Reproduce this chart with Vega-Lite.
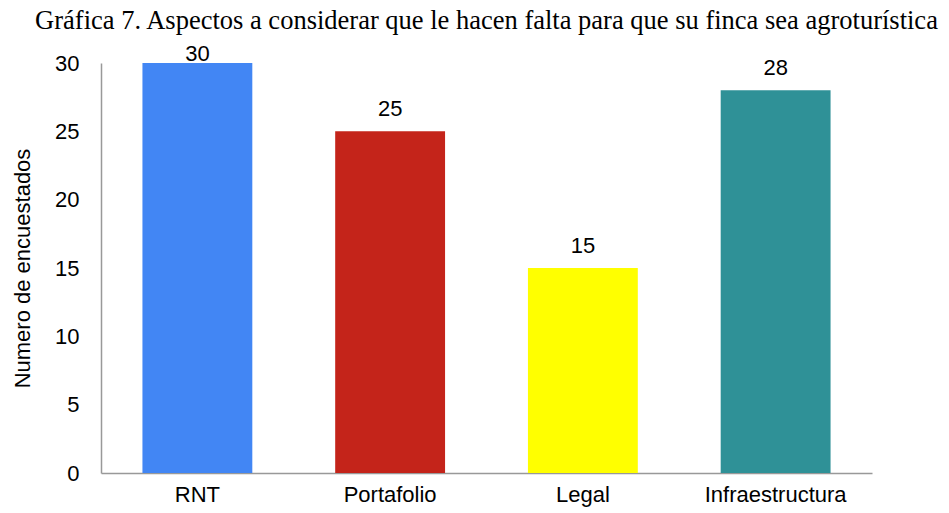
{
  "$schema": "https://vega.github.io/schema/vega-lite/v6.json",
  "width": 771,
  "height": 410,
  "autosize": {"type": "none"},
  "padding": {"left": 101, "top": 63, "right": 77, "bottom": 40},
  "background": "white",
  "title": {
    "text": "Gráfica 7. Aspectos a considerar que le hacen falta para que su finca sea agroturística",
    "font": "Liberation Serif",
    "fontSize": 26.5,
    "fontWeight": "normal",
    "color": "#000000",
    "anchor": "middle",
    "offset": 9
  },
  "data": {
    "values": [
      {"aspecto": "RNT", "n": 30},
      {"aspecto": "Portafolio", "n": 25},
      {"aspecto": "Legal", "n": 15},
      {"aspecto": "Infraestructura", "n": 28}
    ]
  },
  "config": {
    "view": {"stroke": null},
    "font": "Liberation Sans"
  },
  "encoding": {
    "x": {
      "field": "aspecto",
      "type": "nominal",
      "sort": null,
      "scale": {"paddingInner": 0.43, "paddingOuter": 0.215},
      "axis": {
        "title": null,
        "labelAngle": 0,
        "labelFont": "Liberation Sans",
        "labelFontSize": 22,
        "labelColor": "#000000",
        "labelPadding": 11,
        "ticks": false,
        "domainColor": "#999999",
        "domainWidth": 1.5
      }
    }
  },
  "layer": [
    {
      "mark": {"type": "bar"},
      "encoding": {
        "y": {
          "field": "n",
          "type": "quantitative",
          "scale": {"domain": [0, 30]},
          "axis": {
            "title": "Numero de encuestados",
            "titleFont": "Liberation Sans",
            "titleFontSize": 22,
            "titleFontWeight": "normal",
            "titleColor": "#000000",
            "titlePadding": 20,
            "values": [0, 5, 10, 15, 20, 25, 30],
            "labelFont": "Liberation Sans",
            "labelFontSize": 22,
            "labelColor": "#000000",
            "labelPadding": 22,
            "ticks": false,
            "grid": false,
            "domainColor": "#999999",
            "domainWidth": 1.5
          }
        },
        "color": {
          "field": "aspecto",
          "type": "nominal",
          "scale": {
            "domain": ["RNT", "Portafolio", "Legal", "Infraestructura"],
            "range": ["#4286f4", "#c4241a", "#ffff00", "#2f9197"]
          },
          "legend": null
        }
      }
    },
    {
      "mark": {"type": "text", "dy": -9, "font": "Liberation Sans", "fontSize": 22, "color": "#000000"},
      "encoding": {
        "y": {
          "field": "n",
          "type": "quantitative",
          "scale": {"domain": [-0.95, 29.05], "clamp": true, "nice": false, "zero": false},
          "axis": null
        },
        "text": {"field": "n", "type": "quantitative"}
      }
    }
  ],
  "resolve": {"scale": {"y": "independent"}}
}
